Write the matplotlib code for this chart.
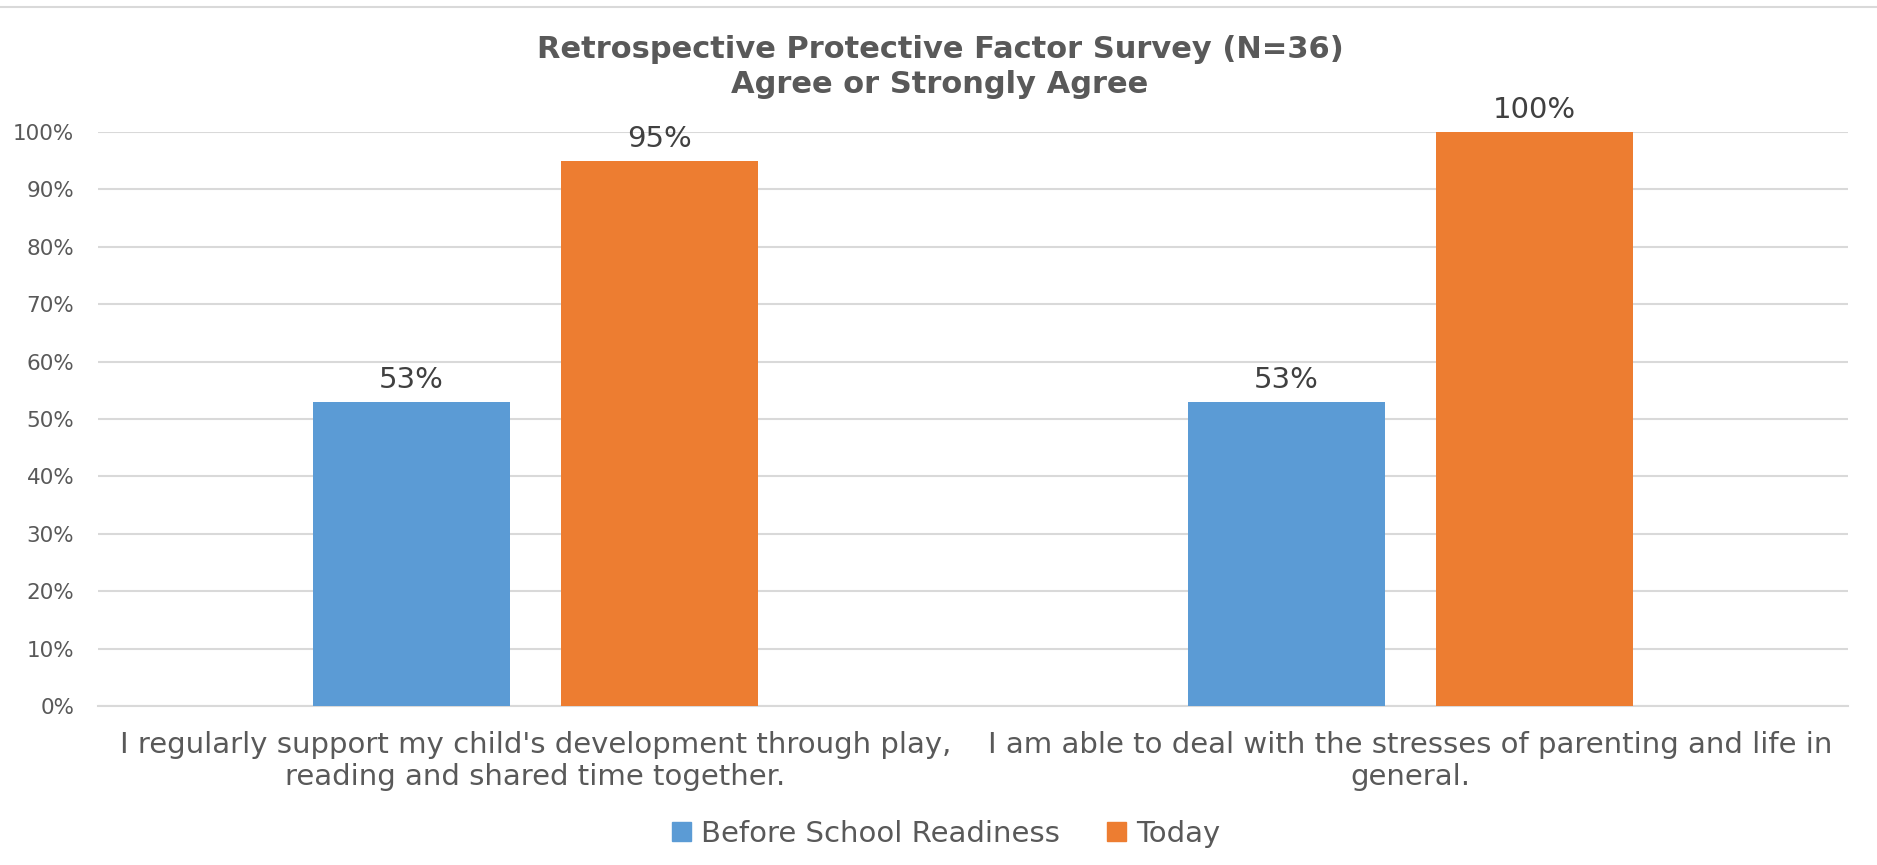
import matplotlib
matplotlib.use("Agg")
import matplotlib.pyplot as plt
from matplotlib.lines import Line2D
from matplotlib.patches import Patch
import numpy as np

plt.rcParams['font.family'] = ['DejaVu Sans']

categories = [
    "I regularly support my child's development through play,\nreading and shared time together.",
    "I am able to deal with the stresses of parenting and life in\ngeneral.",
]
series_names = ["Before School Readiness", "Today"]
before_values = [0.53, 0.53]
today_values = [0.95, 1.00]
y_ticks = [0.0, 0.1, 0.2, 0.3, 0.4, 0.5, 0.6, 0.7, 0.8, 0.9, 1.0]
title_text = "Retrospective Protective Factor Survey (N=36)\nAgree or Strongly Agree"

BLUE = "#5B9BD5"
ORANGE = "#ED7D31"
GRID = "#D9D9D9"
TEXT = "#595959"
LABEL = "#404040"

W, H = 1877, 865
fig = plt.figure(figsize=(W / 100, H / 100), dpi=100)
ax = fig.add_axes([98 / W, 1 - 706 / H, (1848 - 98) / W, (706 - 132) / H])

x = np.arange(len(categories))
bw = 0.225
off = 0.142
bars_b = ax.bar(x - off, before_values, bw, color=BLUE, zorder=3)
bars_t = ax.bar(x + off, today_values, bw, color=ORANGE, zorder=3)

for bars, vals in ((bars_b, before_values), (bars_t, today_values)):
    for b, v in zip(bars, vals):
        ax.annotate(f"{v:.0%}", (b.get_x() + b.get_width() / 2, v),
                    xytext=(0, 8), textcoords="offset pixels",
                    ha="center", va="bottom", fontsize=21, color=LABEL)

ax.set_xlim(-0.5, 1.5)
ax.set_ylim(0, 1)
ax.set_yticks(y_ticks)
ax.set_yticklabels([f"{t:.0%}" for t in y_ticks])
ax.set_xticks(x)
ax.set_xticklabels(categories, fontsize=21, color=TEXT, linespacing=1.2)
ax.tick_params(axis="y", length=0, pad=17, labelsize=15.5, labelcolor=TEXT)
ax.tick_params(axis="x", length=0, pad=18)
ax.yaxis.grid(True, color=GRID, lw=1.5, zorder=0)
ax.set_axisbelow(True)
for s in ("top", "right", "left"):
    ax.spines[s].set_visible(False)
ax.spines["bottom"].set_color(GRID)
ax.spines["bottom"].set_linewidth(1.5)

fig.text(940 / W, 1 - 67 / H, title_text, ha="center", va="center",
         fontsize=22, fontweight="bold", color=TEXT, linespacing=1.3)

handles = [Patch(color=BLUE), Patch(color=ORANGE)]
fig.legend(handles, series_names, loc="center", bbox_to_anchor=(946 / W, 1 - 834 / H),
           ncol=2, frameon=False, fontsize=21, labelcolor=TEXT,
           handlelength=0.65, handleheight=0.65, handletextpad=0.35, columnspacing=1.6)

fig.add_artist(Line2D([0, 1], [1 - 7 / H, 1 - 7 / H], color=GRID, lw=1.5,
                      transform=fig.transFigure))

fig.savefig("out.png", dpi=100, facecolor="white")
